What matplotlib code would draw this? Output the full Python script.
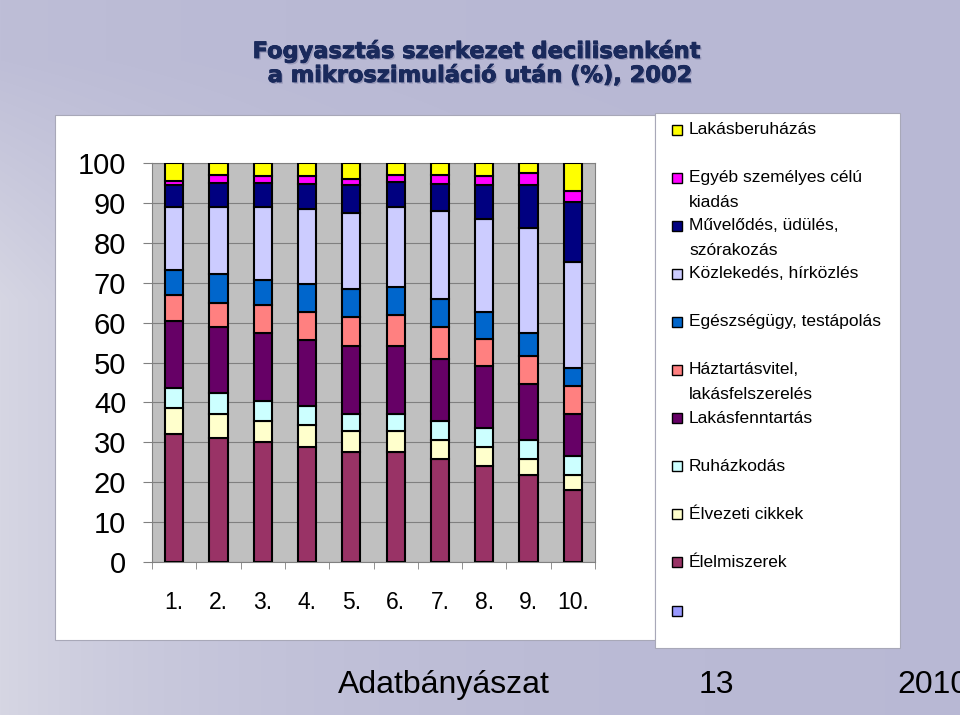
import numpy as np
import matplotlib
matplotlib.use("Agg")
import matplotlib.pyplot as plt
from matplotlib.patches import Rectangle
import matplotlib.patheffects as pe

# ---------------- data ----------------
deciles = ["1.", "2.", "3.", "4.", "5.", "6.", "7.", "8.", "9.", "10."]

elelmiszerek    = [32.0, 31.0, 30.1, 28.7, 27.6, 27.6, 25.9, 24.0, 21.8, 18.0]
elvezeti        = [6.7, 6.2, 5.2, 5.6, 5.3, 5.3, 4.6, 4.9, 4.1, 3.8]
ruhazkodas      = [5.0, 5.1, 5.1, 4.7, 4.2, 4.3, 4.9, 4.6, 4.8, 4.7]
lakasfenntartas = [16.6, 16.6, 17.1, 16.6, 17.0, 16.9, 15.4, 15.5, 13.8, 10.7]
haztartasvitel  = [6.5, 6.1, 7.0, 7.0, 7.2, 7.7, 8.0, 6.9, 7.2, 7.0]
egeszsegugy     = [6.3, 7.2, 6.2, 7.0, 7.1, 7.1, 7.1, 6.7, 5.8, 4.3]
kozlekedes      = [15.9, 16.8, 18.3, 18.9, 19.0, 20.1, 22.1, 23.4, 26.2, 26.8]
muvelodes       = [5.4, 6.0, 6.0, 6.3, 7.0, 6.2, 6.8, 8.4, 10.7, 14.9]
egyeb           = [1.1, 2.1, 1.7, 1.9, 1.7, 1.9, 2.3, 2.3, 3.1, 2.9]
lakasberuhazas  = [4.5, 2.9, 3.3, 3.3, 3.9, 2.9, 2.9, 3.3, 2.5, 6.9]

series_values = [elelmiszerek, elvezeti, ruhazkodas, lakasfenntartas, haztartasvitel,
                 egeszsegugy, kozlekedes, muvelodes, egyeb, lakasberuhazas]
series_colors = ["#993366", "#FFFFCC", "#CCFFFF", "#660066", "#FF8080",
                 "#0066CC", "#CCCCFF", "#000080", "#FF00FF", "#FFFF00"]

# legend (top to bottom), lines of each label
legend_labels = [["Lakásberuházás"],
                 ["Egyéb személyes célú", "kiadás"],
                 ["Művelődés, üdülés,", "szórakozás"],
                 ["Közlekedés, hírközlés"],
                 ["Egészségügy, testápolás"],
                 ["Háztartásvitel,", "lakásfelszerelés"],
                 ["Lakásfenntartás"],
                 ["Ruházkodás"],
                 ["Élvezeti cikkek"],
                 ["Élelmiszerek"],
                 [""]]
legend_colors = series_colors[::-1] + ["#9999FF"]

title_lines = ["Fogyasztás szerkezet decilisenként", "a mikroszimuláció után (%), 2002"]
footer = ["Adatbányászat", "13", "2010"]

# ---------------- figure ----------------
W, H = 960, 715
fig = plt.figure(figsize=(W / 100, H / 100), dpi=100)

def fx(x):
    return x / W

def fy(y):
    return 1 - y / H

# background gradient
bg = fig.add_axes([0, 0, 1, 1], zorder=-10)
xx, yy = np.meshgrid(np.arange(W), np.arange(H))
base = np.array([184, 184, 212], float)
light = 30 * np.exp(-xx / 260.0) * np.clip(yy / 300.0, 0.2, 1.0)
img = np.stack([base[0] + light, base[1] + light, base[2] + light * 0.5], axis=-1)
bg.imshow(np.clip(img, 0, 255).astype(np.uint8), aspect="auto", extent=[0, 1, 0, 1])
bg.set_axis_off()

# white panels
fig.patches.append(Rectangle((fx(55), fy(640)), 600 / W, 525 / H, transform=fig.transFigure,
                             facecolor="white", edgecolor="#a8a8b8", lw=0.8, zorder=-5))
fig.patches.append(Rectangle((fx(655), fy(648)), 245 / W, 535 / H, transform=fig.transFigure,
                             facecolor="white", edgecolor="#a8a8b8", lw=0.8, zorder=-5))

# title
for line, yb, xc in zip(title_lines, [58, 82], [476.5, 480]):
    fig.text(fx(xc), fy(yb), line, ha="center", va="baseline", fontsize=16.2,
             fontweight="bold", family="DejaVu Sans", color="#1a2a5c",
             path_effects=[pe.withSimplePatchShadow(offset=(1.2, -1.2),
                                                    shadow_rgbFace="#7a7aa0", alpha=0.5),
                           pe.withStroke(linewidth=0.6, foreground="#1a2a5c")])

# chart axes
ax = fig.add_axes([fx(152), fy(562), 443 / W, 399 / H])
ax.set_facecolor("#C0C0C0")
x = np.arange(len(deciles))
bottom = np.zeros(len(deciles))
for vals, col in zip(series_values, series_colors):
    ax.bar(x, vals, bottom=bottom, width=0.41, color=col, edgecolor="black",
           linewidth=1.5, zorder=3)
    bottom += np.array(vals)

ax.set_xlim(-0.5, len(deciles) - 0.5)
ax.set_ylim(0, 100)
ax.set_yticks(np.arange(0, 101, 10))
ax.yaxis.grid(True, color="#808080", lw=0.8)
ax.set_axisbelow(True)
ax.tick_params(axis="y", length=6.5, color="#808080", pad=12, labelsize=21)
for lab in ax.get_yticklabels():
    lab.set_family("Liberation Sans")

ax.set_xticks(x)
ax.set_xticklabels(deciles, fontsize=16.5, family="Liberation Sans")
ax.set_xticks(np.arange(-0.5, len(deciles), 1), minor=True)
ax.tick_params(axis="x", which="major", length=0, pad=21)
ax.tick_params(axis="x", which="minor", length=5, color="#808080")
for s in ax.spines.values():
    s.set_color("#808080")
    s.set_linewidth(0.8)

# legend (manual)
for i, (lines, col) in enumerate(zip(legend_labels, legend_colors)):
    yc = 129.5 + 48.1 * i
    fig.patches.append(Rectangle((fx(672), fy(yc + 5)), 10 / W, 10 / H,
                                 transform=fig.transFigure, facecolor=col,
                                 edgecolor="black", lw=1.0, zorder=5))
    for j, line in enumerate(lines):
        fig.text(fx(689), fy(yc + 24.5 * j), line, ha="left", va="center",
                 fontsize=12.5, family="Liberation Sans", color="black")

# footer
for txt, xl in zip(footer, [338, 699, 897]):
    fig.text(fx(xl), fy(693), txt, ha="left", va="baseline", fontsize=23,
             family="Liberation Sans", color="black")

fig.savefig("out.png", dpi=100)
